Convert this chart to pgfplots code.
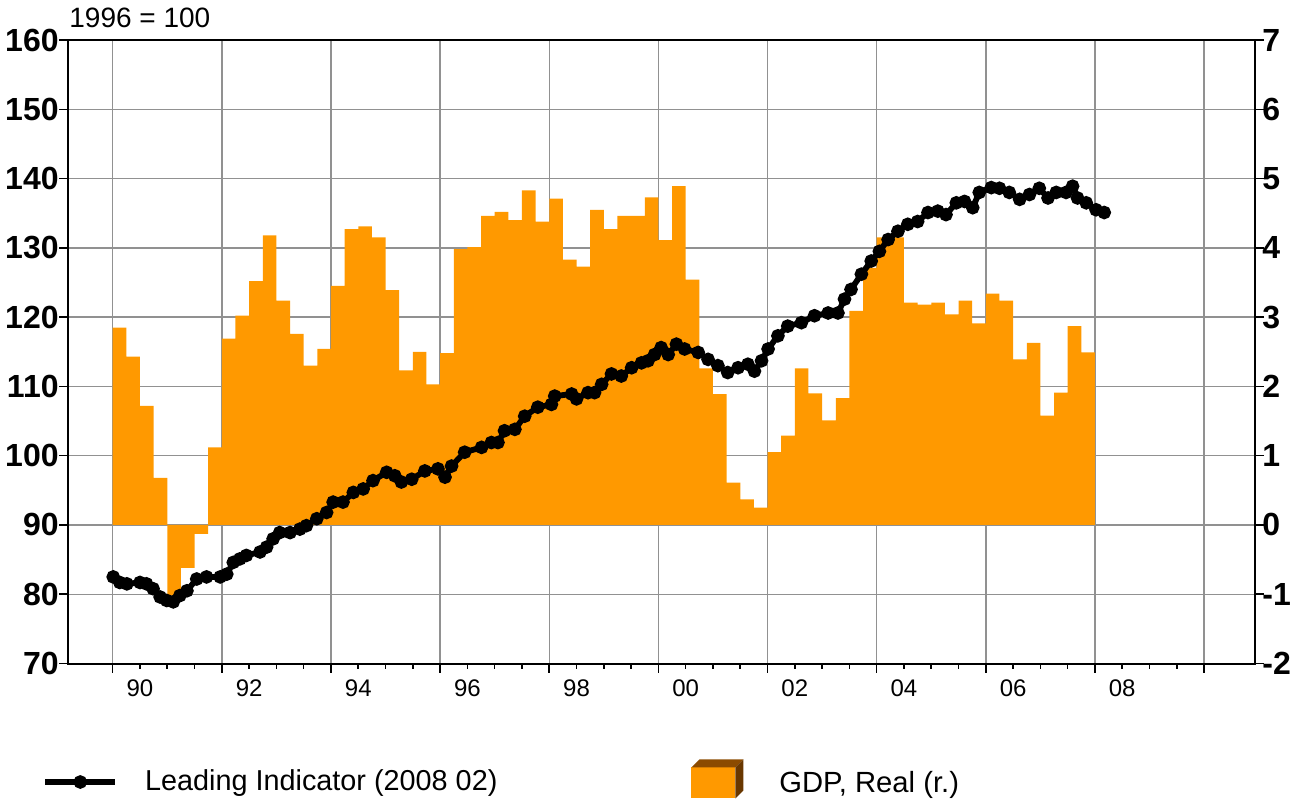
\documentclass[border=0pt]{standalone}
\usepackage{fontspec}
\setmainfont{Liberation Sans}
\usepackage{pgfplots}
\pgfplotsset{compat=1.18}
\usepackage{pgfplotstable}
\pgfplotsset{/pgf/number format/assume math mode=true}

\definecolor{gdporange}{RGB}{255,153,0}
\definecolor{gridgray}{RGB}{145,145,145}
\definecolor{boxtop}{RGB}{140,75,0}
\definecolor{boxside}{RGB}{105,55,0}

\pgfplotstableread{
x v
1990.125 2.85
1990.375 2.43
1990.625 1.72
1990.875 0.68
1991.125 -1.02
1991.375 -0.62
1991.625 -0.13
1991.875 1.12
1992.125 2.69
1992.375 3.02
1992.625 3.52
1992.875 4.18
1993.125 3.24
1993.375 2.76
1993.625 2.30
1993.875 2.54
1994.125 3.45
1994.375 4.27
1994.625 4.31
1994.875 4.15
1995.125 3.39
1995.375 2.23
1995.625 2.50
1995.875 2.03
1996.125 2.48
1996.375 3.98
1996.625 4.01
1996.875 4.46
1997.125 4.52
1997.375 4.40
1997.625 4.83
1997.875 4.38
1998.125 4.71
1998.375 3.83
1998.625 3.73
1998.875 4.55
1999.125 4.27
1999.375 4.46
1999.625 4.46
1999.875 4.73
2000.125 4.11
2000.375 4.89
2000.625 3.54
2000.875 2.26
2001.125 1.89
2001.375 0.61
2001.625 0.37
2001.875 0.25
2002.125 1.05
2002.375 1.29
2002.625 2.26
2002.875 1.90
2003.125 1.51
2003.375 1.83
2003.625 3.09
2003.875 3.71
2004.125 4.15
2004.375 4.15
2004.625 3.21
2004.875 3.18
2005.125 3.21
2005.375 3.04
2005.625 3.24
2005.875 2.91
2006.125 3.34
2006.375 3.24
2006.625 2.39
2006.875 2.63
2007.125 1.58
2007.375 1.91
2007.625 2.87
2007.875 2.49
}\gdp

\pgfplotstableread{
x L
1990.01 82.5
1990.13 81.7
1990.26 81.5
1990.50 81.7
1990.62 81.5
1990.74 80.8
1990.87 79.6
1990.99 79.1
1991.11 78.9
1991.23 79.8
1991.36 80.5
1991.54 82.2
1991.72 82.5
1991.97 82.5
1992.09 82.9
1992.21 84.6
1992.33 85.1
1992.45 85.6
1992.70 86.1
1992.82 86.8
1992.94 88.0
1993.06 88.9
1993.25 88.9
1993.43 89.4
1993.55 89.9
1993.74 90.9
1993.92 91.8
1994.04 93.3
1994.22 93.3
1994.41 94.7
1994.59 95.2
1994.77 96.4
1995.02 97.6
1995.17 97.1
1995.29 96.2
1995.48 96.6
1995.72 97.8
1995.96 98.1
1996.09 96.9
1996.21 98.5
1996.45 100.5
1996.76 101.2
1996.94 101.9
1997.06 101.9
1997.18 103.6
1997.37 103.8
1997.55 105.7
1997.79 107.0
1998.04 107.4
1998.10 108.6
1998.41 108.9
1998.50 108.2
1998.71 109.1
1998.83 109.1
1998.96 110.3
1999.14 111.8
1999.32 111.5
1999.51 112.7
1999.69 113.4
1999.81 113.7
1999.93 114.6
2000.05 115.6
2000.18 114.6
2000.33 116.1
2000.48 115.4
2000.73 114.9
2000.91 113.9
2001.09 113.0
2001.27 112.0
2001.46 112.7
2001.64 113.2
2001.76 112.2
2001.89 113.7
2002.01 115.4
2002.19 117.3
2002.37 118.7
2002.62 119.2
2002.86 120.2
2003.11 120.6
2003.29 120.6
2003.41 122.6
2003.53 124.0
2003.72 126.2
2003.90 128.1
2004.05 129.5
2004.21 131.2
2004.39 132.4
2004.57 133.4
2004.75 133.8
2004.94 135.1
2005.12 135.3
2005.27 134.8
2005.46 136.5
2005.61 136.7
2005.76 135.8
2005.88 138.0
2006.10 138.7
2006.25 138.6
2006.43 138.0
2006.62 137.0
2006.80 137.7
2006.98 138.6
2007.14 137.2
2007.29 138.0
2007.47 138.0
2007.59 138.9
2007.68 137.2
2007.84 136.5
2008.02 135.5
2008.17 135.1
}\lead

\begin{document}
\begin{tikzpicture}
\useasboundingbox (0,0) rectangle (647pt,400pt);
% ---- right axis: GDP bars, grid, x axis ----
\begin{axis}[
  at={(34pt,68.25pt)}, anchor=south west,
  scale only axis, width=593.5pt, height=311.75pt,
  xmin=1989.181, xmax=2010.933,
  ymin=-2, ymax=7,
  axis line style={line width=1pt, black},
  xtick={1990,1992,...,2010},
  xticklabels={90,92,94,96,98,00,02,04,06,08,{}},
  xticklabel style={xshift=13.64pt, font=\fontsize{12}{14}\selectfont},
  minor xtick={1990.5,1991,...,2009.5},
  xtick pos=bottom, tick align=outside,
  major tick length=4.5pt, minor tick length=2.5pt,
  ytick={-2,-1,...,7}, ytick pos=right, yticklabel pos=right,
  yticklabel style={font=\bfseries\fontsize{16}{18}\selectfont, inner sep=0pt, xshift=-1pt},
  grid=major, major grid style={line width=0.7pt, gridgray},
  tick style={line width=0.8pt, black},
  legend style={at={(0.52486,-0.1852)}, anchor=west, draw=none, fill=none,
    inner sep=0pt, font=\fontsize{14.6}{16}\selectfont,
    nodes={inner sep=0pt},
    /tikz/column 1/.style={column sep=18pt}},
]
\addplot[ybar, bar width=0.25, bar shift=0pt, fill=gdporange, draw=none,
  legend image code/.code={
    \fill[gdporange] (0pt,-7.75pt) rectangle (22pt,7.75pt);
    \fill[boxtop] (0pt,7.75pt) -- (4pt,11.75pt) -- (26pt,11.75pt) -- (22pt,7.75pt) -- cycle;
    \fill[boxside] (22pt,-7.75pt) -- (26pt,-3.75pt) -- (26pt,11.75pt) -- (22pt,7.75pt) -- cycle;
  }] table[x=x, y=v] {\gdp};
\addlegendentry{GDP, Real (r.)}
\end{axis}
% ---- left axis: Leading Indicator ----
\begin{axis}[
  at={(34pt,68.25pt)}, anchor=south west,
  scale only axis, width=593.5pt, height=311.75pt,
  xmin=1989.181, xmax=2010.933,
  ymin=70, ymax=160,
  axis line style={line width=1pt, black},
  xtick=\empty,
  ytick={70,80,...,160}, ytick pos=left, tick align=outside,
  major tick length=4.5pt,
  tick style={line width=0.8pt, black},
  yticklabel style={font=\bfseries\fontsize{16}{18}\selectfont, inner sep=0pt},
  legend style={at={(-0.02191,-0.19005)}, anchor=west, draw=none, fill=none,
    inner sep=0pt, font=\fontsize{14.4}{16}\selectfont,
    nodes={inner sep=0pt},
    /tikz/column 1/.style={column sep=13.5pt}},
]
\addplot[black, line width=2.9pt, mark=*, mark size=1.9pt,
  legend image code/.code={
    \draw[black, line width=2.9pt, mark=*, mark size=1.9pt, mark repeat=2, mark phase=2]
      plot coordinates {(0pt,0pt) (17.5pt,0pt) (35pt,0pt)};
  }] table[x=x, y=L] {\lead};
\addlegendentry{Leading Indicator (2008 02)}
\end{axis}
\node[anchor=base west, inner sep=0pt, font=\fontsize{14}{16}\selectfont] at (34.5pt,386pt) {1996 = 100};
\end{tikzpicture}
\end{document}
